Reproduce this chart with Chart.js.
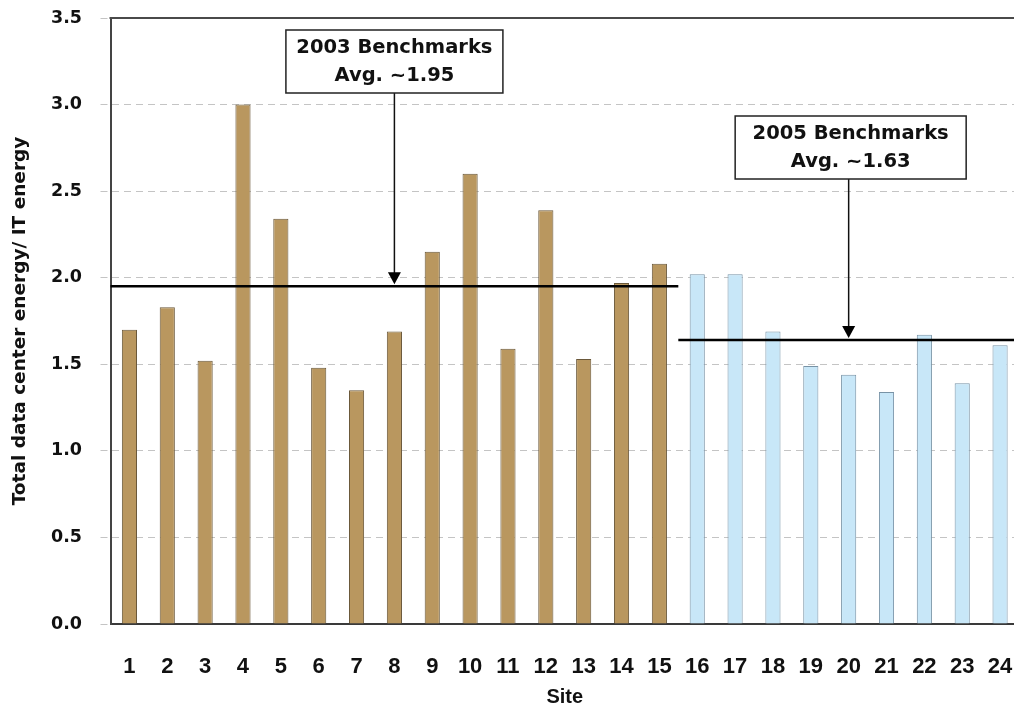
<!DOCTYPE html>
<html><head><meta charset="utf-8">
<script src="https://cdn.jsdelivr.net/npm/chart.js@4.4.1/dist/chart.umd.min.js"></script>
<style>
html,body{margin:0;padding:0;background:#fff;overflow:hidden;width:1014px;height:704px}
#wrap{position:absolute;left:0;top:0;width:1020px;height:704px}
</style></head><body>
<div id="wrap"><canvas id="c" width="1020" height="704" style="width:1020px;height:704px"></canvas></div>
<script>
// ---- data ----
const sites = ['1','2','3','4','5','6','7','8','9','10','11','12','13','14','15','16','17','18','19','20','21','22','23','24'];
const benchmark2003 = [1.70, 1.83, 1.52, 3.00, 2.34, 1.48, 1.35, 1.69, 2.15, 2.60, 1.59, 2.39, 1.53, 1.97, 2.08];
const benchmark2005 = [2.02, 2.02, 1.69, 1.49, 1.44, 1.34, 1.67, 1.39, 1.61];
const averages = [1.95, 1.64];
const averageSpans = [[1, 15], [16, 24]];
const arrowSites = [8, 20];
const averageLabels = [['2003 Benchmarks', 'Avg. ~1.95'], ['2005 Benchmarks', 'Avg. ~1.63']];
const yTitle = 'Total data center energy/ IT energy';
const xTitle = 'Site';

const n2003 = benchmark2003.length;
const data2003 = sites.map((s, i) => i < n2003 ? benchmark2003[i] : null);
const data2005 = sites.map((s, i) => i >= n2003 ? benchmark2005[i - n2003] : null);

// ---- annotation styles (pixel offsets, not data) ----
const boxStyles = [
  {dx: -108.5, w: 217, top: 12, h: 63},
  {dx: -113.5, w: 231, top: 98, h: 63}
];

const benchPlugin = {
  id: 'bench',
  afterDatasetsDraw(chart) {
    const {ctx, chartArea: a, scales: {x, y}} = chart;
    const half = (x.getPixelForValue(1) - x.getPixelForValue(0)) / 2;
    ctx.save();
    ctx.strokeStyle = '#4a4a4a'; ctx.lineWidth = 2; ctx.setLineDash([]);
    ctx.beginPath();
    ctx.moveTo(a.left - 1, a.top); ctx.lineTo(a.right, a.top); ctx.lineTo(a.right, a.bottom);
    ctx.stroke();
    averages.forEach((v, i) => {
      const [s0, s1] = averageSpans[i];
      const x0 = Math.max(a.left, x.getPixelForValue(s0 - 1) - half);
      const x1 = Math.min(a.right, x.getPixelForValue(s1 - 1) + half);
      const py = y.getPixelForValue(v);
      ctx.strokeStyle = '#000'; ctx.lineWidth = 2.5;
      ctx.beginPath(); ctx.moveTo(x0, py); ctx.lineTo(x1, py); ctx.stroke();

      const st = boxStyles[i];
      const ax = x.getPixelForValue(arrowSites[i] - 1);
      const bx = ax + st.dx, by = a.top + st.top;
      const tipY = py - 2, headH = 12, headW = 6.5;
      ctx.strokeStyle = '#111'; ctx.lineWidth = 1.5;
      ctx.beginPath(); ctx.moveTo(ax, by + st.h); ctx.lineTo(ax, tipY - headH + 1); ctx.stroke();
      ctx.fillStyle = '#000';
      ctx.beginPath(); ctx.moveTo(ax, tipY); ctx.lineTo(ax - headW, tipY - headH); ctx.lineTo(ax + headW, tipY - headH); ctx.closePath(); ctx.fill();
      ctx.fillStyle = '#fff';
      ctx.fillRect(bx, by, st.w, st.h);
      ctx.strokeStyle = '#222'; ctx.lineWidth = 1.5;
      ctx.strokeRect(bx, by, st.w, st.h);
      ctx.fillStyle = '#111';
      ctx.font = 'bold 19.5px "DejaVu Sans", "Liberation Sans", Arial, sans-serif';
      ctx.textAlign = 'center'; ctx.textBaseline = 'middle';
      const cx = bx + st.w / 2;
      ctx.fillText(averageLabels[i][0], cx, by + 18);
      ctx.fillText(averageLabels[i][1], cx, by + 45.5);
    });
    ctx.restore();
  }
};

new Chart(document.getElementById('c'), {
  type: 'bar',
  data: {
    labels: sites,
    datasets: [
      {label: '2003', data: data2003, backgroundColor: '#B9975F', borderColor: '#6A583A', borderWidth: 1, grouped: false, barPercentage: 0.4, categoryPercentage: 1},
      {label: '2005', data: data2005, backgroundColor: '#C8E7F8', borderColor: '#7893A6', borderWidth: 1, grouped: false, barPercentage: 0.4, categoryPercentage: 1}
    ]
  },
  options: {
    responsive: false,
    animation: false,
    layout: {autoPadding: false, padding: {top: 18, right: 1, left: 0, bottom: 0}},
    plugins: {legend: {display: false}, tooltip: {enabled: false}},
    scales: {
      x: {
        grid: {display: false, drawTicks: true, tickLength: 30},
        border: {display: true, color: '#3a3a3a', width: 2},
        ticks: {
          font: {family: '"Liberation Sans Narrow", "Liberation Sans", Arial, sans-serif', size: 22, weight: 'bold'},
          color: '#111', padding: 0, maxRotation: 0, autoSkip: false
        },
        title: {
          display: true, text: xTitle, color: '#111',
          font: {family: '"Liberation Sans", Arial, sans-serif', size: 20, weight: 'bold', lineHeight: 1},
          padding: {top: 0, bottom: -3}
        },
        afterFit(s) { s.height = 80; s.paddingLeft = 0; s.paddingRight = 0; }
      },
      y: {
        min: 0, max: 3.5,
        ticks: {
          stepSize: 0.5, callback: v => Number(v).toFixed(1),
          font: {family: '"DejaVu Sans", "Liberation Sans", Arial, sans-serif', size: 17.5, weight: 'bold'},
          color: '#111', padding: 18.5
        },
        grid: {color: '#c4c4c4', lineWidth: 1, tickLength: 10, tickColor: '#c4c4c4', tickBorderDash: [7, 5]},
        border: {display: true, color: '#444', width: 2, dash: [7, 5]},
        title: {
          display: true, text: yTitle, color: '#111',
          font: {family: '"DejaVu Sans", "Liberation Sans", Arial, sans-serif', size: 18.5, weight: 'bold'},
          padding: {top: 9, bottom: 0}
        },
        afterFit(s) { s.width = 110.5; s.paddingTop = 0; s.paddingBottom = 0; }
      }
    }
  },
  plugins: [benchPlugin]
});
</script>
</body></html>
